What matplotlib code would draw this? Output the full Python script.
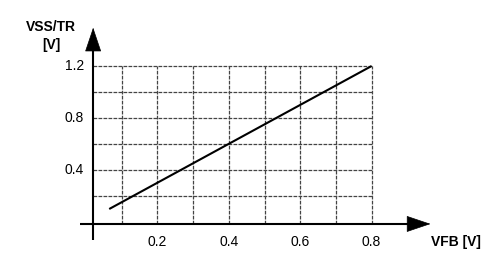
import matplotlib
matplotlib.use("Agg")
import matplotlib.pyplot as plt
from matplotlib.patches import FancyArrowPatch, ArrowStyle

# data
vfb = [0.065, 0.8]
vss = [0.1, 1.2]
xticks = [0.2, 0.4, 0.6, 0.8]
xtick_labels = ["0.2", "0.4", "0.6", "0.8"]
yticks = [0.4, 0.8, 1.2]
ytick_labels = ["0.4", "0.8", "1.2"]
vgrid = [0.1, 0.2, 0.3, 0.4, 0.5, 0.6, 0.7, 0.8]
hgrid = [0.2, 0.4, 0.6, 0.8, 1.0, 1.2]

plt.rcParams['font.family'] = ['Liberation Sans', 'DejaVu Sans']

fig = plt.figure(figsize=(4.88, 2.68), dpi=100)
ax = fig.add_axes([0, 0, 1, 1])
ax.set_xlim(-0.2409, 1.126)
ax.set_ylim(-0.3538, 1.7077)
ax.axis('off')

x_axis_y = -0.015
y_axis_x = 0.02
gx_max = 0.8
gy_max = 1.2

grid_kw = dict(color='#444444', lw=0.9, linestyle=(0, (3, 1)))
ax.vlines(vgrid, x_axis_y, gy_max, **grid_kw)
ax.hlines(hgrid, y_axis_x, gx_max, **grid_kw)

# data line
ax.plot(vfb, vss, color='black', lw=1.5, solid_capstyle='butt')

# axes with arrows
ax.plot([-0.017, 0.93], [x_axis_y, x_axis_y], color='black', lw=1.5, solid_capstyle='butt')
ax.plot([y_axis_x, y_axis_x], [-0.14, 1.40], color='black', lw=1.5, solid_capstyle='butt')
style = ArrowStyle('-|>', head_length=16, head_width=5.4)
ax.add_patch(FancyArrowPatch((0.90, x_axis_y), (0.965, x_axis_y), arrowstyle=style,
                             mutation_scale=1, color='black', lw=0.5,
                             shrinkA=0, shrinkB=0))
ax.add_patch(FancyArrowPatch((y_axis_x, 1.35), (y_axis_x, 1.495), arrowstyle=style,
                             mutation_scale=1, color='black', lw=0.5,
                             shrinkA=0, shrinkB=0))

fs = 10
for x, lab in zip(xticks, xtick_labels):
    ax.text(x, -0.157, lab, ha='center', va='center', fontsize=fs)
for y, lab in zip(yticks, ytick_labels):
    ax.text(-0.005, y, lab, ha='right', va='center', fontsize=fs)

bfs = 10
ax.text(-0.098, 1.50, "VSS/TR", ha='center', va='center', fontsize=bfs, fontweight='bold')
ax.text(-0.098, 1.365, "[V]", ha='center', va='center', fontsize=bfs, fontweight='bold')
ax.text(0.9655, -0.154, "VFB [V]", ha='left', va='center', fontsize=bfs, fontweight='bold')

fig.savefig("out.png", dpi=100)
